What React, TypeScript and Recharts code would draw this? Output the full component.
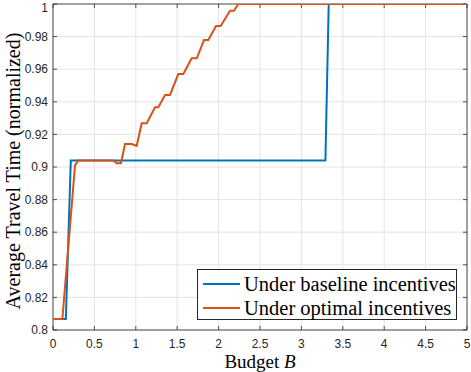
import React from "react";
import { LineChart, Line, XAxis, YAxis, CartesianGrid, ReferenceLine, ReferenceArea } from "recharts";

const baselineX = [0, 0.155, 0.215, 3.29, 3.33, 5];
const baselineY = [0.8067, 0.8067, 0.904, 0.904, 1.0, 1.0];

const optimalX = [0, 0.113, 0.266, 0.306, 0.728, 0.769, 0.821, 0.87, 0.95, 1.011, 1.071, 1.132, 1.232, 1.272, 1.353, 1.413, 1.513, 1.574, 1.675, 1.736, 1.824, 1.876, 1.969, 2.025, 2.138, 2.186, 2.238, 5];
const optimalY = [0.8067, 0.8067, 0.901, 0.904, 0.904, 0.9023, 0.9023, 0.9141, 0.9141, 0.913, 0.9268, 0.9268, 0.9366, 0.9366, 0.9442, 0.9442, 0.957, 0.957, 0.9667, 0.9667, 0.9779, 0.9779, 0.9865, 0.9865, 0.9959, 0.9959, 1.0, 1.0];

const xTicks = [0, 0.5, 1, 1.5, 2, 2.5, 3, 3.5, 4, 4.5, 5];
const xTickLabels = ["0", "0.5", "1", "1.5", "2", "2.5", "3", "3.5", "4", "4.5", "5"];
const yTicks = [0.8, 0.82, 0.84, 0.86, 0.88, 0.9, 0.92, 0.94, 0.96, 0.98, 1];
const yTickLabels = ["0.8", "0.82", "0.84", "0.86", "0.88", "0.9", "0.92", "0.94", "0.96", "0.98", "1"];

const seriesNames = ["Under baseline incentives", "Under optimal incentives"];
const seriesColors = ["#0072BD", "#D95319"];

const baselineData = baselineX.map((x, i) => ({ x, y: baselineY[i] }));
const optimalData = optimalX.map((x, i) => ({ x, y: optimalY[i] }));

const SERIF = "'Liberation Serif', 'Times New Roman', serif";
const SANS = "'Liberation Sans', Arial, Helvetica, sans-serif";
const AXIS = "#262626";

const X_DOMAIN: [number, number] = [0, 5];
const Y_DOMAIN: [number, number] = [0.8, 1];
const X_TICK_LEN = 0.00245; // in y units
const Y_TICK_LEN = 0.048; // in x units

export default function App() {
  return (
    <div style={{ position: "absolute", left: 0, top: 0, width: 471, height: 372, background: "#fff" }}>
      <LineChart width={471} height={372} margin={{ top: 4, right: 4, left: 0, bottom: 0 }}>
        <CartesianGrid stroke="#e4e4e4" strokeWidth={1} horizontalValues={yTicks} verticalValues={xTicks} />
        <XAxis
          dataKey="x"
          type="number"
          domain={X_DOMAIN}
          ticks={xTicks}
          allowDataOverflow
          height={42}
          tickLine={false}
          axisLine={false}
          tickSize={0}
          tickMargin={9.5}
          tick={{ fill: AXIS, fontSize: 12, fontFamily: SANS }}
          tickFormatter={(v: number) => xTickLabels[xTicks.indexOf(v)] ?? String(v)}
          label={{
            content: () => (
              <text x={260} y={368} textAnchor="middle" fontFamily={SERIF} fontSize={19} fill="#000">
                Budget <tspan fontStyle="italic">B</tspan>
              </text>
            ),
          }}
        />
        <YAxis
          dataKey="y"
          type="number"
          domain={Y_DOMAIN}
          ticks={yTicks}
          allowDataOverflow
          width={53}
          tickLine={false}
          axisLine={false}
          tickSize={0}
          tickMargin={5}
          tick={{ fill: AXIS, fontSize: 12, fontFamily: SANS }}
          tickFormatter={(v: number) => {
            const i = yTicks.findIndex((t) => Math.abs(t - v) < 1e-9);
            return i >= 0 ? yTickLabels[i] : String(v);
          }}
          label={{
            content: () => (
              <text
                x={13}
                y={171}
                transform="rotate(-90, 13, 171)"
                textAnchor="middle"
                dominantBaseline="central"
                fontFamily={SERIF}
                fontSize={20}
                fill="#000"
              >
                Average Travel Time (normalized)
              </text>
            ),
          }}
        />
        {xTicks.map((t) => (
          <ReferenceLine key={"xb" + t} segment={[{ x: t, y: 0.8 }, { x: t, y: 0.8 + X_TICK_LEN }]} stroke={AXIS} strokeWidth={0.8} />
        ))}
        {xTicks.map((t) => (
          <ReferenceLine key={"xt" + t} segment={[{ x: t, y: 1 }, { x: t, y: 1 - X_TICK_LEN }]} stroke={AXIS} strokeWidth={0.8} />
        ))}
        {yTicks.map((t) => (
          <ReferenceLine key={"yl" + t} segment={[{ x: 0, y: t }, { x: Y_TICK_LEN, y: t }]} stroke={AXIS} strokeWidth={0.8} />
        ))}
        {yTicks.map((t) => (
          <ReferenceLine key={"yr" + t} segment={[{ x: 5, y: t }, { x: 5 - Y_TICK_LEN, y: t }]} stroke={AXIS} strokeWidth={0.8} />
        ))}
        <Line
          data={baselineData}
          dataKey="y"
          type="linear"
          stroke={seriesColors[0]}
          strokeWidth={2}
          dot={false}
          activeDot={false}
          isAnimationActive={false}
          name={seriesNames[0]}
        />
        <Line
          data={optimalData}
          dataKey="y"
          type="linear"
          stroke={seriesColors[1]}
          strokeWidth={2}
          dot={false}
          activeDot={false}
          isAnimationActive={false}
          name={seriesNames[1]}
        />
        <ReferenceArea x1={0} x2={5} y1={0.8} y2={1} fill="none" fillOpacity={0} stroke={AXIS} strokeWidth={0.8} ifOverflow="visible" />
      </LineChart>
      <div
        style={{
          position: "absolute",
          left: 197,
          top: 269,
          width: 260,
          height: 51,
          boxSizing: "border-box",
          border: `1px solid ${AXIS}`,
          background: "#fff",
          fontFamily: SERIF,
          fontSize: 20.5,
          color: "#000",
        }}
      >
        {seriesNames.map((name, i) => (
          <div
            key={name}
            style={{ position: "absolute", left: 0, top: i === 0 ? 2 : 25.5, height: 24, display: "flex", alignItems: "center", whiteSpace: "nowrap" }}
          >
            <span style={{ display: "inline-block", marginLeft: 4.5, width: 37.5, height: 2, background: seriesColors[i] }} />
            <span style={{ marginLeft: 4, lineHeight: "24px" }}>{name}</span>
          </div>
        ))}
      </div>
    </div>
  );
}
